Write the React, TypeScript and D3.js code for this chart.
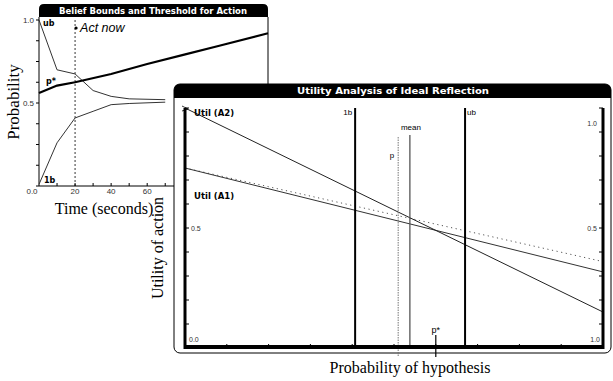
import * as d3 from "d3";

// left panel: belief bounds over time
const beliefTime = [0, 10, 20, 30, 40, 50, 70];
const upperBound = [1.0, 0.7, 0.675, 0.575, 0.54, 0.525, 0.52];
const lowerBound = [0.01, 0.26, 0.41, 0.45, 0.49, 0.497, 0.505];
const thresholdTime = [0, 10, 20, 40, 60, 80, 100, 127];
const threshold = [0.56, 0.605, 0.625, 0.675, 0.735, 0.79, 0.845, 0.92];
const timeTicks = [20, 40, 60];
const actNowTime = 20;

// right panel: utility lines across probability of hypothesis
const probEnds = [0, 1];
const utilA2 = [1.0, 0.15];
const utilA1 = [0.75, 0.317];
const utilExpected = [0.75, 0.36];
const lbValue = 0.407;
const ubValue = 0.67;
const meanValue = 0.538;
const pValue = 0.51;
const pStarValue = 0.6;

const serif = "'Liberation Serif', 'Times New Roman', serif";
const sans = "'Liberation Sans', Arial, sans-serif";
const chicago = "'DejaVu Sans', sans-serif";

function topRounded(x0: number, y0: number, x1: number, y1: number, r: number) {
  return `M${x0},${y1} V${y0 + r} Q${x0},${y0} ${x0 + r},${y0} H${x1 - r} Q${x1},${y0} ${x1},${y0 + r} V${y1} Z`;
}

function BeliefPanel() {
  const x = d3.scaleLinear().domain([0, 127]).range([39, 268]);
  const y = d3.scaleLinear().domain([0, 1]).range([186, 20]);
  const line = d3.line<[number, number]>().x(d => x(d[0])).y(d => y(d[1]));
  const ub = beliefTime.map((t, i) => [t, upperBound[i]] as [number, number]);
  const lb = beliefTime.map((t, i) => [t, lowerBound[i]] as [number, number]);
  const ps = thresholdTime.map((t, i) => [t, threshold[i]] as [number, number]);
  const yTicks = d3.range(0, 1.001, 0.125);
  const xTicks = d3.range(10, 71, 10);

  return (
    <g>
      <path d={topRounded(39, 4, 268, 17, 5)} fill="#000" />
      <text x={153} y={14} fill="#fff" fontFamily={chicago} fontWeight="bold" fontSize={9}
        textAnchor="middle" textLength={188} lengthAdjust="spacingAndGlyphs">
        Belief Bounds and Threshold for Action
      </text>
      <line x1={268} x2={268} y1={17} y2={90} stroke="#000" />
      <line x1={39} x2={39} y1={17} y2={186} stroke="#000" />
      <line x1={39} x2={176} y1={186} y2={186} stroke="#000" />
      {yTicks.map(t => (
        <line key={t} x1={36} x2={39} y1={y(t)} y2={y(t)} stroke="#000" />
      ))}
      {xTicks.map(t => (
        <line key={t} x1={x(t)} x2={x(t)} y1={183} y2={186} stroke="#000" />
      ))}
      {[1.0, 0.5].map(t => (
        <text key={t} x={34} y={y(t) + 3} fontFamily={sans} fontSize={8} textAnchor="end" fill="#333">
          {t.toFixed(1)}
        </text>
      ))}
      <text x={32} y={194} fontFamily={sans} fontSize={8} textAnchor="middle" fill="#333">0.0</text>
      {timeTicks.map(t => (
        <text key={t} x={x(t)} y={194} fontFamily={sans} fontSize={8} textAnchor="middle" fill="#333">{t}</text>
      ))}
      <line x1={x(actNowTime)} x2={x(actNowTime)} y1={20} y2={186} stroke="#000" strokeWidth={0.8} strokeDasharray="2,2" />
      <circle cx={x(actNowTime) + 1} cy={28} r={1.6} fill="#000" />
      <text x={x(actNowTime) + 5} y={32} fontFamily={sans} fontStyle="italic" fontSize={12.5}>Act now</text>
      <path d={line(ub) ?? ""} fill="none" stroke="#333" strokeWidth={1} />
      <path d={line(lb) ?? ""} fill="none" stroke="#333" strokeWidth={1} />
      <path d={line(ps) ?? ""} fill="none" stroke="#000" strokeWidth={2.2} />
      <text x={43} y={26} fontFamily={chicago} fontWeight="bold" fontSize={8}>ub</text>
      <text x={46} y={84} fontFamily={chicago} fontWeight="bold" fontSize={8}>p*</text>
      <text x={44} y={183} fontFamily={chicago} fontWeight="bold" fontSize={8}>1b</text>
      <text transform="translate(19,102) rotate(-90)" fontFamily={serif} fontSize={17} textAnchor="middle">Probability</text>
      <text x={104} y={214} fontFamily={serif} fontSize={16} textAnchor="middle">Time (seconds)</text>
    </g>
  );
}

function UtilityPanel() {
  const x = d3.scaleLinear().domain([0, 1]).range([185, 603]);
  const y = d3.scaleLinear().domain([0, 1]).range([348, 108]);
  const line = d3.line<number>().x((_, i) => x(probEnds[i])).y(d => y(d));
  const ticks = d3.range(0, 1.001, 0.1);

  return (
    <g>
      <rect x={174} y={84} width={437} height={269} rx={6} fill="#fff" stroke="#000" strokeWidth={1} />
      <path d={topRounded(174, 84, 611, 98, 6)} fill="#000" />
      <text x={393} y={94} fill="#fff" fontFamily={chicago} fontWeight="bold" fontSize={9}
        textAnchor="middle" textLength={192} lengthAdjust="spacingAndGlyphs">
        Utility Analysis of Ideal Reflection
      </text>
      {ticks.map(t => (
        <g key={t}>
          <line x1={185} x2={189} y1={y(t)} y2={y(t)} stroke="#000" />
          <line x1={599} x2={603} y1={y(t)} y2={y(t)} stroke="#000" />
          <line x1={x(t)} x2={x(t)} y1={344} y2={348} stroke="#000" />
        </g>
      ))}
      <text x={191} y={231} fontFamily={sans} fontSize={7} fill="#333">0.5</text>
      <text x={597} y={231} fontFamily={sans} fontSize={7} fill="#333" textAnchor="end">0.5</text>
      <text x={597} y={126} fontFamily={sans} fontSize={7} fill="#333" textAnchor="end">1.0</text>
      <text x={189} y={342} fontFamily={sans} fontSize={7} fill="#333">0.0</text>
      <text x={600} y={342} fontFamily={sans} fontSize={7} fill="#333" textAnchor="end">1.0</text>

      <path d={line(utilExpected) ?? ""} fill="none" stroke="#555" strokeWidth={1} strokeDasharray="1.2,3.5" />
      <path d={line(utilA1) ?? ""} fill="none" stroke="#333" strokeWidth={1} />
      <path d={line(utilA2) ?? ""} fill="none" stroke="#222" strokeWidth={1} />

      <line x1={x(lbValue)} x2={x(lbValue)} y1={108} y2={348} stroke="#000" strokeWidth={2} />
      <line x1={x(ubValue)} x2={x(ubValue)} y1={108} y2={348} stroke="#000" strokeWidth={2} />
      <line x1={x(meanValue)} x2={x(meanValue)} y1={135} y2={348} stroke="#555" strokeWidth={1.3} />
      <line x1={x(pValue)} x2={x(pValue)} y1={137} y2={357} stroke="#666" strokeWidth={0.9} strokeDasharray="1.5,1" />
      <line x1={x(pStarValue)} x2={x(pStarValue)} y1={335} y2={357} stroke="#000" strokeWidth={1.2} />

      <line x1={185} x2={185} y1={108} y2={349} stroke="#000" strokeWidth={3} />
      <line x1={603} x2={603} y1={108} y2={349} stroke="#000" strokeWidth={3} />
      <line x1={184} x2={604} y1={347} y2={347} stroke="#000" strokeWidth={4} />
      <path d="M182,106 L188,109 L182,111" fill="none" stroke="#000" strokeWidth={0.8} />

      <text x={x(lbValue) - 3} y={115} fontFamily={sans} fontSize={8} textAnchor="end">1b</text>
      <text x={x(ubValue) + 2} y={115} fontFamily={sans} fontSize={8}>ub</text>
      <text x={x(meanValue) + 1} y={130} fontFamily={sans} fontSize={8} textAnchor="middle">mean</text>
      <text x={x(pValue) - 4} y={158} fontFamily={sans} fontSize={8} textAnchor="end">p</text>
      <text x={x(pStarValue)} y={333} fontFamily={sans} fontSize={9} textAnchor="middle">p*</text>
      <text x={194} y={116} fontFamily={chicago} fontWeight="bold" fontSize={8.5}>Util (A2)</text>
      <text x={194} y={199} fontFamily={chicago} fontWeight="bold" fontSize={8.5}>Util (A1)</text>

      <text transform="translate(163,248) rotate(-90)" fontFamily={serif} fontSize={16} textAnchor="middle">Utility of action</text>
      <text x={410} y={373} fontFamily={serif} fontSize={16} textAnchor="middle">Probability of hypothesis</text>
    </g>
  );
}

export default function App() {
  return (
    <svg width={613} height={381} viewBox="0 0 613 381"
      style={{ position: "absolute", left: 0, top: 0, background: "#fff" }}>
      <BeliefPanel />
      <UtilityPanel />
    </svg>
  );
}
